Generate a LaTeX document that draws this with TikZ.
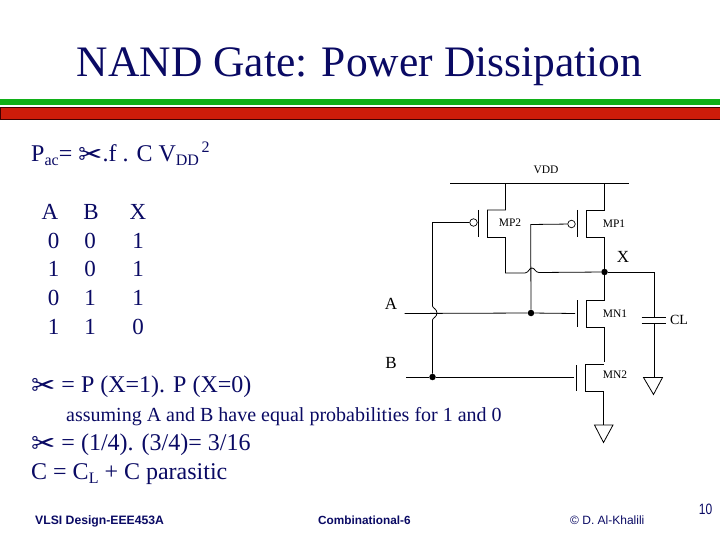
\documentclass[tikz,border=0pt]{standalone}
\usepackage{fontspec}
\setmainfont{Liberation Serif}
\newfontfamily\footfont{Liberation Sans}
\newfontfamily\symfont{DejaVu Sans}
\definecolor{slidetext}{RGB}{10,10,100}
\definecolor{barred}{RGB}{205,28,10}
\definecolor{bargreen}{RGB}{16,176,24}
\newcommand{\scissor}{\raisebox{-3pt}{\symfont\fontsize{29}{29}\selectfont\char"2702}}

\begin{document}
\begin{tikzpicture}[x=1pt, y=-1pt]
    % Define styles
    \tikzstyle{line} = [inner sep=0pt, anchor=base west, text=slidetext, font=\fontsize{24}{24}\selectfont]
    \tikzstyle{cell} = [inner sep=0pt, anchor=base, text=slidetext, font=\fontsize{23}{23}\selectfont]
    \tikzstyle{foot} = [inner sep=0pt, anchor=base west, text=slidetext, font=\footfont\fontsize{11}{11}\selectfont]
    \tikzstyle{dev} = [inner sep=0pt, text=black, font=\fontsize{11.5}{12}\selectfont]
    \tikzstyle{pin} = [inner sep=0pt, text=black, font=\fontsize{17}{17}\selectfont]
    \tikzstyle{wire} = [line width=0.8pt, black]
    \tikzstyle{bubble} = [circle, draw=black, line width=0.7pt, fill=white, minimum size=7.5pt, inner sep=0pt]
    \tikzstyle{dot} = [circle, fill=black, minimum size=6.5pt, inner sep=0pt]

    \useasboundingbox (0,0) rectangle (720,540);
    \fill[white] (0,0) rectangle (720,540);

    % Title and bars
    \node (title) [inner sep=0pt, anchor=base, text=slidetext, font=\fontsize{43.5}{44}\selectfont] at (359.5,77) {NAND Gate: Power Dissipation};
    \fill[bargreen] (0,99) rectangle (720,105);
    \draw[fill=barred, draw=black!75!red, line width=1pt] (0.5,108) rectangle (720.5,120);

    % Text lines
    \node (pac) [line] at (31,162) {P\raisebox{-4pt}{\fontsize{16}{16}\selectfont ac}= \scissor.f . C V\raisebox{-4pt}{\fontsize{16}{16}\selectfont DD}\raisebox{9pt}{\fontsize{16}{16}\selectfont \,2}};
    \node (pxx) [line] at (31,392) {\scissor{} = P (X=1). P (X=0)};
    \node (assume) [line, font=\fontsize{20}{20}\selectfont] at (66,421) {assuming A and B have equal probabilities for 1 and 0};
    \node (alpha) [line] at (31,450) {\scissor{} = (1/4). (3/4)= 3/16};
    \node (cap) [line] at (31,479) {C = C\raisebox{-4pt}{\fontsize{16}{16}\selectfont L} + C parasitic};

    % Truth table
    \node (ha) [cell] at (50,220) {A};
    \node (hb) [cell] at (91,220) {B};
    \node (hx) [cell] at (138,220) {X};
    \foreach \y/\a/\b/\x [count=\r] in {248/0/0/1, 276/1/0/1, 305/0/1/1, 334/1/1/0} {
        \node (a\r) [cell] at (53.5,\y) {\a};
        \node (b\r) [cell] at (90,\y) {\b};
        \node (x\r) [cell] at (138,\y) {\x};
    }

    % Footer
    \node (f1) [foot, font=\footfont\bfseries\fontsize{12.2}{13}\selectfont] at (35,524.5) {VLSI Design-EEE453A};
    \node (f2) [foot, font=\footfont\bfseries\fontsize{11.8}{12}\selectfont] at (318,524.5) {Combinational-6};
    \node (f3) [foot, font=\footfont\fontsize{12}{12}\selectfont] at (570,524.5) {\textcopyright{} D. Al-Khalili};
    \node (num) [inner sep=0pt, anchor=base, text=slidetext, font=\footfont\fontsize{15}{15}\selectfont] at (705.5,514) {\scalebox{0.8}[1]{10}};

    % Circuit labels
    \node (vdd) [dev] at (546,170) {VDD};
    \node (lmp2) [dev] at (510,223) {MP2};
    \node (lmp1) [dev] at (614,224) {MP1};
    \node (lmn1) [dev] at (615,314) {MN1};
    \node (lmn2) [dev] at (615,375) {MN2};
    \node (lcl) [dev, font=\fontsize{14}{14}\selectfont] at (679,320) {CL};
    \node (lx) [pin] at (623,257) {X};
    \node (la) [pin] at (391,304) {A};
    \node (lb) [pin] at (391,363) {B};

    % Junctions and bubbles
    \node (jx) [dot] at (604.5,272) {};
    \node (ja) [dot] at (531,313) {};
    \node (jb) [dot] at (432.5,377) {};
    \node (bub2) [bubble] at (473.5,222.5) {};
    \node (bub1) [bubble] at (571.5,224) {};

    % Supply rail
    \coordinate (vl) at (450,183.5);
    \coordinate (vr) at (629,183.5);
    \coordinate (v2) at (505.5,183.5);
    \coordinate (v1) at (604.5,183.5);
    \draw [wire] (vl) -- (vr);

    % MP2 and MP1
    \draw [wire] (v2) -- (505.5,210) -- (487.5,210) -- (487.5,237.5) -- (505.5,237.5) -- (505.5,273) -- (525,273)
        .. controls (529,272.5) and (529,268) .. (532,268) .. controls (535,268) and (535,272.5) .. (539,272.5) -- (jx);
    \draw [wire] (478.5,210) -- (478.5,237);
    \draw [wire] (v1) -- (604.5,210) -- (586.5,210) -- (586.5,237.5) -- (604.5,237.5) -- (jx);
    \draw [wire] (577.5,210) -- (577.5,237);
    \draw [wire] (bub1) -- (530.7,224.5) -- (ja);
    \draw [wire] (bub2) -- (432.5,222.5) -- (432.5,306)
        .. controls (432.5,308) and (437,309) .. (437,313) .. controls (437,317) and (432.5,318) .. (432.5,320) -- (jb);

    % A and B inputs
    \coordinate (ina) at (404.5,313.5);
    \coordinate (inb) at (406,377);
    \draw [wire] (ina) -- (ja) -- (575,313.5);
    \draw [wire] (inb) -- (jb) -- (574,377);

    % MN1 and MN2
    \draw [wire] (jx) -- (604.5,300) -- (586.5,300) -- (586.5,327) -- (604.5,327) -- (604.5,362);
    \draw [wire] (577.5,300) -- (577.5,327);
    \draw [wire] (604,364.5) -- (585.5,364.5) -- (585.5,391) -- (603.5,391) -- (603.5,425);
    \draw [wire] (576.5,365) -- (576.5,391);
    \draw [wire] (594.5,425) -- (613,425) -- (603.5,442.5) -- cycle;

    % Output load
    \draw [wire] (jx) -- (654.5,272) -- (654.5,317.5);
    \draw [wire] (641.5,317.5) -- (665.5,317.5);
    \draw [wire] (641.5,323.5) -- (665.5,323.5);
    \draw [wire] (654.5,323.5) -- (654.5,377.5);
    \draw [wire] (643.5,377.5) -- (662.5,377.5) -- (653.5,394.5) -- cycle;
\end{tikzpicture}
\end{document}
